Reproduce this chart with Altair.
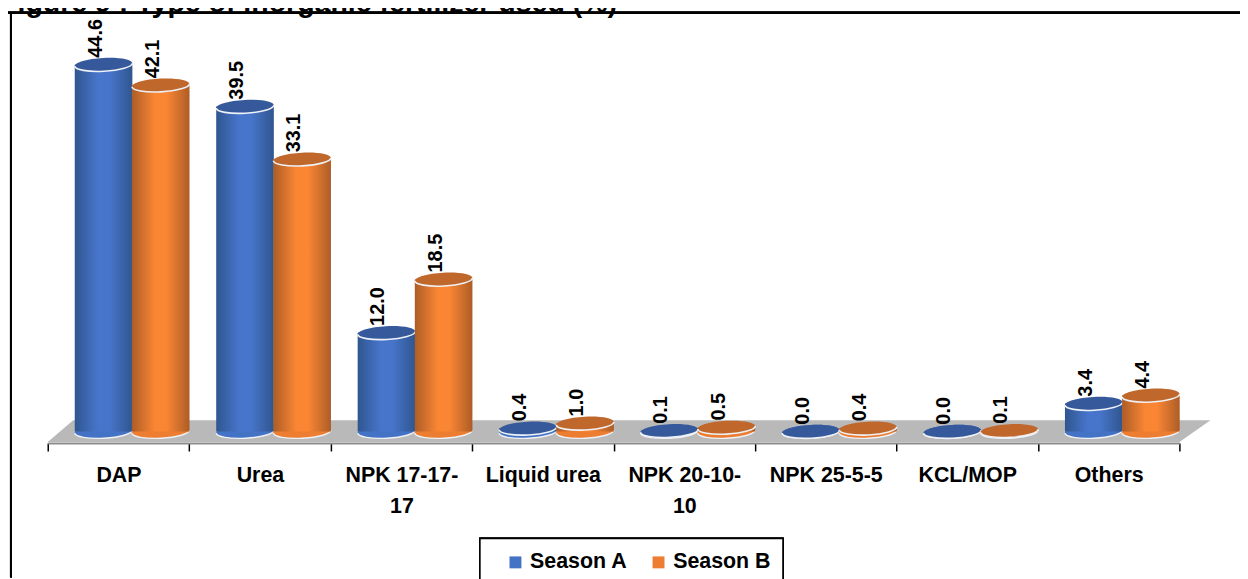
import altair as alt
import pandas as pd

categories = ["DAP", "Urea", "NPK 17-17-|17", "Liquid urea", "NPK 20-10-|10", "NPK 25-5-5", "KCL/MOP", "Others"]
season_a = [44.6, 39.5, 12.0, 0.4, 0.1, 0.0, 0.0, 3.4]
season_b = [42.1, 33.1, 18.5, 1.0, 0.5, 0.4, 0.1, 4.4]
seasons = ["Season A", "Season B"]
mid_colors = ["#4775cb", "#fa8634"]
legend_colors = ["#4472c4", "#ed7d31"]
top_colors = ["#36599b", "#c0682c"]
edge_colors = ["#30568f", "#ad5d27"]
floor_x = [0, 0.18, 8, 8.22]
floor_top = [-1.27, 1.39, 1.39, 1.39]
floor_bottom = [-1.27, -1.27, -1.27, 1.39]
title_text = "Figure 9 : Type of inorganic fertilizer used (%)"

FONT = "Liberation Sans"
ELLIPSE = "M-1,0 A1,0.23 0 1,1 1,0 A1,0.23 0 1,1 -1,0 Z"
RIM = "M-1,0 A1,0.23 0 0,0 1,0"
BAR_W = 58
SIZE = 58 ** 2
OFFSETS = [-15, 42.5]
RIM_COLOR = "#eef1f6"

a = pd.DataFrame({"cat": categories, "value": season_a, "zero": 0.0, "season": seasons[0]})
b = pd.DataFrame({"cat": categories, "value": season_b, "zero": 0.0, "season": seasons[1]})
floor = pd.DataFrame({"x": floor_x, "y": floor_top, "y2": floor_bottom})

y_scale = alt.Scale(domain=[-1.39, 50.9], nice=False, zero=False)
band = alt.Scale(paddingInner=0, paddingOuter=0)
x_enc = alt.X("cat:N", sort=categories, title=None, scale=band, axis=None)
x_axis = alt.X(
    "cat:N", sort=categories, title=None, scale=band,
    axis=alt.Axis(
        tickBand="extent", labelExpr="split(datum.label, '|')", labelAngle=0,
        labelFont=FONT, labelFontWeight="bold", labelFontSize=21.5, labelColor="black",
        labelLineHeight=31, labelPadding=14, tickColor="black", tickSize=8, tickWidth=1.5,
        domainColor="#8c8c8c", domainWidth=2, grid=False, labelLimit=200, orient="bottom",
    ),
)
y_enc = alt.Y("value:Q", scale=y_scale, axis=None, title=None)
y_zero = alt.Y("zero:Q", scale=y_scale, axis=None, title=None)

floor_layer = alt.Chart(floor).mark_area(color="#b9b9b9", interpolate="linear").encode(
    x=alt.X("x:Q", scale=alt.Scale(domain=[0, 8], nice=False), axis=None),
    y=alt.Y("y:Q", scale=y_scale, axis=None),
    y2="y2:Q",
)

layers = []
color_scale = alt.Scale(domain=seasons, range=legend_colors)
for i, df in enumerate([a, b]):
    bottom = alt.Chart(df).mark_point(
        filled=True, shape=ELLIPSE, size=SIZE, angle=357, xOffset=OFFSETS[i], opacity=1,
    ).encode(
        x=x_axis if i == 0 else x_enc,
        y=y_zero,
        color=alt.Color(
            "season:N", scale=color_scale, title=None,
            legend=alt.Legend(
                orient="none", legendX=460, legendY=542, direction="horizontal",
                symbolType="square", symbolSize=144, symbolStrokeWidth=0,
                labelFont=FONT, labelFontWeight="bold", labelFontSize=21.5,
                labelColor="black", columnPadding=20, padding=0, labelLimit=200,
            ),
        ),
    )
    bottom_rim = alt.Chart(df).mark_point(
        shape=RIM, size=SIZE, angle=357, xOffset=OFFSETS[i], opacity=1, filled=False,
        stroke=RIM_COLOR, strokeWidth=1.4,
    ).encode(x=x_enc, y=y_zero)
    body = alt.Chart(df).mark_bar(
        size=BAR_W, xOffset=OFFSETS[i],
        color=alt.Gradient(
            gradient="linear", x1=0, x2=1, y1=0, y2=0,
            stops=[
                alt.GradientStop(color=edge_colors[i], offset=0),
                alt.GradientStop(color=mid_colors[i], offset=0.4),
                alt.GradientStop(color=mid_colors[i], offset=0.6),
                alt.GradientStop(color=edge_colors[i], offset=1),
            ],
        ),
    ).encode(x=x_enc, y=y_enc)
    top = alt.Chart(df).mark_point(
        filled=True, shape=ELLIPSE, size=SIZE, angle=357, xOffset=OFFSETS[i], opacity=1,
        fill=top_colors[i],
    ).encode(x=x_enc, y=y_enc)
    top_rim = alt.Chart(df).mark_point(
        shape=RIM, size=SIZE, angle=357, xOffset=OFFSETS[i], opacity=1, filled=False,
        stroke=RIM_COLOR, strokeWidth=1.6,
    ).encode(x=x_enc, y=y_enc)
    layers += [bottom, bottom_rim, body, top, top_rim]

labels = []
for i, df in enumerate([a, b]):
    labels.append(
        alt.Chart(df).mark_text(
            angle=270, align="left", baseline="middle", font=FONT, fontWeight="bold",
            fontSize=20, color="black", xOffset=OFFSETS[i] - 8, yOffset=-7,
        ).encode(x=x_enc, y=y_enc, text=alt.Text("value:Q", format=".1f"))
    )

frame_top = alt.Chart(a).mark_rule(color="black", strokeWidth=2).encode(
    x=alt.value(-40), x2=alt.value(1200), y=alt.value(0))
frame_left = alt.Chart(a).mark_rule(color="black", strokeWidth=2).encode(
    x=alt.value(-37), y=alt.value(0), y2=alt.value(568))
legend_box = alt.Chart(a).mark_rect(fill="white", stroke="black", strokeWidth=1.5).encode(
    x=alt.value(435), x2=alt.value(740), y=alt.value(529), y2=alt.value(590))
title_mark = alt.Chart(pd.DataFrame({"t": [title_text]})).mark_text(
    align="left", baseline="alphabetic", font=FONT, fontWeight="bold", fontSize=28.7, color="black",
).encode(x=alt.value(-48), y=alt.value(-1), text="t:N")

chart = alt.layer(
    legend_box, frame_top, frame_left, floor_layer, *layers, *labels, title_mark
).resolve_scale(x="independent").properties(
    width=1139, height=433,
    autosize=alt.AutoSizeParams(type="none"),
    padding={"left": 40, "top": 3, "right": 61, "bottom": 135},
).configure_view(stroke=None)

chart.save("out.html", embed_options={"renderer": "svg", "actions": False})
